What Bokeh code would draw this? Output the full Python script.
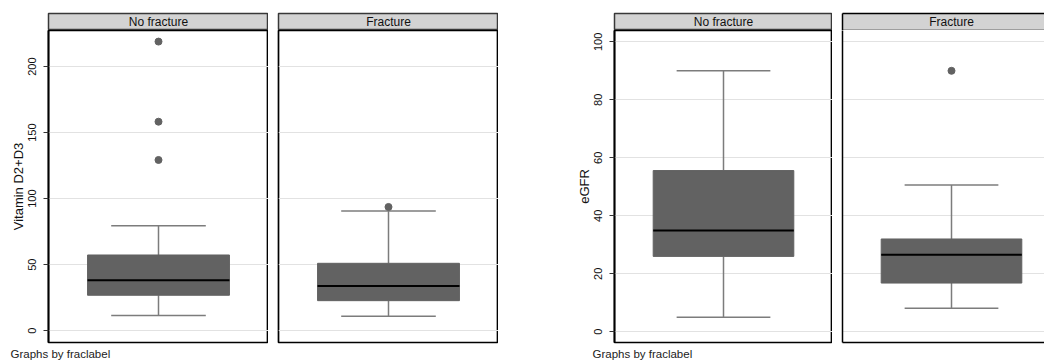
from bokeh.plotting import figure
from bokeh.layouts import row, column
from bokeh.models import (FixedTicker, LinearAxis, Range1d, Title, Label, Grid,
                          ColumnDataSource)
from bokeh.embed import file_html
from bokeh.resources import INLINE

# ---------------- data ----------------
groups = ["No fracture", "Fracture"]

vitd_lo = [11.4, 10.8]
vitd_q1 = [26.8, 22.7]
vitd_med = [38.1, 33.8]
vitd_q3 = [57.3, 51.0]
vitd_hi = [79.5, 90.7]
vitd_out = [[219.0, 158.3, 129.3], [93.7]]
vitd_ticks = [0, 50, 100, 150, 200]
vitd_range = (-9.0, 227.4)

egfr_lo = [5.0, 8.1]
egfr_q1 = [26.0, 16.8]
egfr_med = [34.9, 26.6]
egfr_q3 = [55.6, 32.0]
egfr_hi = [90.0, 50.6]
egfr_out = [[], [90.0]]
egfr_ticks = [0, 20, 40, 60, 80, 100]
egfr_range = (-3.7, 103.9)

note_text = "Graphs by fraclabel"

# ---------------- style ----------------
FONT = "Liberation Sans"
BOX_W = 0.645
CAP_W = 0.43
BOX_COLOR = "#626262"
WHISK_COLOR = "#7c7c7c"
GRID_COLOR = "#e2e2e2"
HEAD_FILL = "#d3d3d3"
FRAME_H = 312
HEAD_H = 17
TOP_GAP = 13


def blank_axis(**kw):
    return LinearAxis(ticker=FixedTicker(ticks=[]), major_tick_out=0, major_tick_in=0,
                      minor_tick_out=0, minor_tick_in=0, major_label_standoff=0,
                      axis_line_color="black", axis_line_width=1.5, **kw)


def header(text, frame_w, full_w, border_left, clipped=False):
    h = figure(width=border_left + frame_w, height=HEAD_H + TOP_GAP,
               x_range=Range1d(0, frame_w / full_w), y_range=Range1d(0, 1),
               min_border_left=border_left, min_border_right=0,
               min_border_top=TOP_GAP, min_border_bottom=0,
               x_axis_location=None, y_axis_location=None,
               toolbar_location=None, output_backend="svg")
    h.xgrid.visible = False
    h.ygrid.visible = False
    h.background_fill_color = HEAD_FILL
    h.border_fill_color = "white"
    if clipped:
        h.outline_line_color = None
        h.add_layout(blank_axis(), "left")
        h.add_layout(blank_axis(), "above")
        h.add_layout(blank_axis(), "below")
    else:
        h.outline_line_color = "#383838"
        h.outline_line_width = 1.5
    h.add_layout(Label(x=0.5, y=0.5, text=text, text_align="center",
                       text_baseline="middle", text_font=FONT,
                       text_font_size="12px", text_color="#111111"))
    return h


def panel(i, lo, q1, med, q3, hi, outs, yr, ticks, frame_w, full_w, border_left,
          ylabel=None, clipped=False, note_offset=None):
    p = figure(width=border_left + frame_w, height=FRAME_H + 20,
               x_range=Range1d(0, frame_w / full_w), y_range=Range1d(*yr),
               min_border_left=border_left, min_border_right=0,
               min_border_top=0, min_border_bottom=20,
               x_axis_location=None, y_axis_location=None,
               toolbar_location=None, output_backend="svg")
    p.xgrid.visible = False
    p.ygrid.visible = False
    p.background_fill_color = "white"
    p.border_fill_color = "white"
    p.add_layout(Grid(dimension=1, ticker=FixedTicker(ticks=ticks),
                      grid_line_color=GRID_COLOR, grid_line_width=1))
    if clipped:
        p.outline_line_color = None
        p.add_layout(blank_axis(), "left")
        p.add_layout(blank_axis(), "below")
    else:
        p.outline_line_color = "black"
        p.outline_line_width = 1.7

    if ylabel is not None:
        ax = LinearAxis(ticker=FixedTicker(ticks=ticks), axis_label=ylabel)
        ax.axis_label_text_font = FONT
        ax.axis_label_text_font_size = "13px"
        ax.axis_label_text_font_style = "normal"
        ax.axis_label_text_color = "#111111"
        ax.axis_label_standoff = 0
        ax.major_label_text_font = FONT
        ax.major_label_text_font_size = "11px"
        ax.major_label_text_color = "#111111"
        ax.major_label_orientation = "vertical"
        ax.major_label_standoff = 7
        ax.major_tick_out = 5
        ax.major_tick_in = 0
        ax.major_tick_line_color = "#333333"
        ax.minor_tick_line_color = None
        ax.axis_line_color = "black"
        ax.axis_line_width = 1.7
        p.add_layout(ax, "left")

    src = ColumnDataSource(dict(x=[0.5], lo=[lo[i]], q1=[q1[i]], med=[med[i]],
                                q3=[q3[i]], hi=[hi[i]],
                                bx0=[0.5 - BOX_W / 2], bx1=[0.5 + BOX_W / 2],
                                cx0=[0.5 - CAP_W / 2], cx1=[0.5 + CAP_W / 2]))
    p.segment(x0="x", x1="x", y0="q3", y1="hi", source=src,
              line_color=WHISK_COLOR, line_width=1.5)
    p.segment(x0="x", x1="x", y0="lo", y1="q1", source=src,
              line_color=WHISK_COLOR, line_width=1.5)
    p.vbar(x="x", width=BOX_W, bottom="q1", top="q3", source=src,
           fill_color=BOX_COLOR, line_color=BOX_COLOR, line_width=1)
    p.segment(x0="bx0", x1="bx1", y0="med", y1="med", source=src,
              line_color="black", line_width=2)
    p.segment(x0="cx0", x1="cx1", y0="hi", y1="hi", source=src,
              line_color=WHISK_COLOR, line_width=1.5)
    p.segment(x0="cx0", x1="cx1", y0="lo", y1="lo", source=src,
              line_color=WHISK_COLOR, line_width=1.5)
    if outs[i]:
        p.scatter(x=[0.5] * len(outs[i]), y=outs[i], size=7,
                  fill_color=BOX_COLOR, line_color=BOX_COLOR)

    if note_offset is not None:
        t = Title(text=note_text, align="left", offset=note_offset,
                  text_font=FONT, text_font_size="11.5px",
                  text_font_style="normal", text_color="#222222", standoff=6)
        p.add_layout(t, "below")
    return p


# left chart
a1 = column(header(groups[0], 220, 220, 48),
            panel(0, vitd_lo, vitd_q1, vitd_med, vitd_q3, vitd_hi, vitd_out,
                  vitd_range, vitd_ticks, 220, 220, 48, ylabel="Vitamin D2+D3",
                  note_offset=-38), spacing=0)
a2 = column(header(groups[1], 220, 220, 10),
            panel(1, vitd_lo, vitd_q1, vitd_med, vitd_q3, vitd_hi, vitd_out,
                  vitd_range, vitd_ticks, 220, 220, 10), spacing=0)
# right chart
b1 = column(header(groups[0], 218, 218, 116),
            panel(0, egfr_lo, egfr_q1, egfr_med, egfr_q3, egfr_hi, egfr_out,
                  egfr_range, egfr_ticks, 218, 218, 116, ylabel="eGFR",
                  note_offset=-22), spacing=0)
b2 = column(header(groups[1], 202, 218, 10, clipped=True),
            panel(1, egfr_lo, egfr_q1, egfr_med, egfr_q3, egfr_hi, egfr_out,
                  egfr_range, egfr_ticks, 202, 218, 10, clipped=True), spacing=0)

layout = row(a1, a2, b1, b2, spacing=0)

with open("out.html", "w") as f:
    f.write(file_html(layout, INLINE))
